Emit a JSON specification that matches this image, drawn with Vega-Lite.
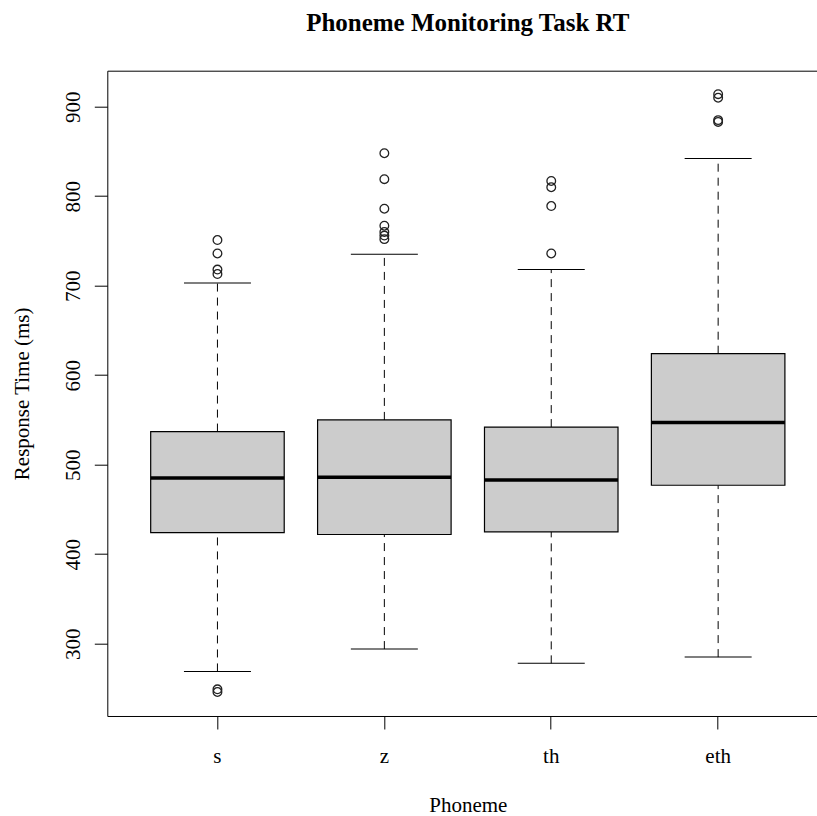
{
  "$schema": "https://vega.github.io/schema/vega-lite/v6.json",
  "autosize": "none",
  "width": 721,
  "height": 645.3,
  "padding": {"left": 107.3, "top": 70.7, "right": -11, "bottom": 100},
  "background": "white",
  "title": {
    "text": "Phoneme Monitoring Task RT",
    "font": "Liberation Serif",
    "fontSize": 25,
    "fontWeight": "bold",
    "color": "black",
    "anchor": "middle",
    "baseline": "alphabetic",
    "offset": 15
  },
  "config": {
    "view": {"stroke": "black", "strokeWidth": 1},
    "axis": {
      "labelFont": "Liberation Serif",
      "labelFontSize": 21,
      "labelColor": "black",
      "titleFont": "Liberation Serif",
      "titleFontSize": 21,
      "titleFontWeight": "normal",
      "titleColor": "black",
      "tickColor": "black",
      "tickSize": 13,
      "tickWidth": 1,
      "grid": false,
      "domain": false,
      "labelOverlap": false,
      "labelFlush": false
    }
  },
  "datasets": {
    "stats": [
      {"phoneme": "s", "lo": 269, "q1": 424, "median": 485, "q3": 537, "hi": 703},
      {"phoneme": "z", "lo": 294, "q1": 422, "median": 486, "q3": 550, "hi": 735},
      {"phoneme": "th", "lo": 278, "q1": 425, "median": 483, "q3": 542, "hi": 718},
      {"phoneme": "eth", "lo": 285, "q1": 477, "median": 547, "q3": 624, "hi": 842}
    ],
    "outliers": [
      {"phoneme": "s", "rt": 751},
      {"phoneme": "s", "rt": 736},
      {"phoneme": "s", "rt": 718},
      {"phoneme": "s", "rt": 713},
      {"phoneme": "s", "rt": 249},
      {"phoneme": "s", "rt": 246},
      {"phoneme": "z", "rt": 848},
      {"phoneme": "z", "rt": 819},
      {"phoneme": "z", "rt": 786},
      {"phoneme": "z", "rt": 767},
      {"phoneme": "z", "rt": 760},
      {"phoneme": "z", "rt": 756},
      {"phoneme": "z", "rt": 752},
      {"phoneme": "th", "rt": 817},
      {"phoneme": "th", "rt": 810},
      {"phoneme": "th", "rt": 789},
      {"phoneme": "th", "rt": 736},
      {"phoneme": "eth", "rt": 914},
      {"phoneme": "eth", "rt": 910},
      {"phoneme": "eth", "rt": 885},
      {"phoneme": "eth", "rt": 883}
    ]
  },
  "encoding": {
    "x": {
      "field": "phoneme",
      "type": "nominal",
      "sort": ["s", "z", "th", "eth"],
      "scale": {"type": "band", "domain": ["s", "z", "th", "eth"], "paddingInner": 0.2, "paddingOuter": 0.26},
      "axis": {
        "title": "Phoneme",
        "labelAngle": 0,
        "labelAlign": "center",
        "labelBaseline": "alphabetic",
        "labelPadding": 34,
        "titleBaseline": "alphabetic",
        "titleAlign": "center",
        "titleX": 360.5,
        "titleY": 96
      }
    }
  },
  "layer": [
    {
      "data": {"name": "stats"},
      "mark": {"type": "rule", "color": "black", "strokeWidth": 1, "strokeDash": [8, 6]},
      "encoding": {
        "y": {
          "field": "q3",
          "type": "quantitative",
          "scale": {"domain": [219.2, 940.2], "nice": false, "zero": false},
          "axis": {
            "title": "Response Time (ms)",
            "values": [300, 400, 500, 600, 700, 800, 900],
            "labelAngle": -90,
            "labelAlign": "center",
            "labelBaseline": "alphabetic",
            "labelPadding": 15,
            "titleAngle": -90,
            "titleAlign": "center",
            "titleBaseline": "alphabetic",
            "titleX": -79,
            "titleY": 322.65
          }
        },
        "y2": {"field": "hi"}
      }
    },
    {
      "data": {"name": "stats"},
      "mark": {"type": "rule", "color": "black", "strokeWidth": 1, "strokeDash": [8, 6]},
      "encoding": {
        "y": {"field": "lo", "type": "quantitative"},
        "y2": {"field": "q1"}
      }
    },
    {
      "data": {"name": "stats"},
      "mark": {"type": "tick", "color": "black", "size": 67, "thickness": 1, "opacity": 1},
      "encoding": {
        "y": {"field": "hi", "type": "quantitative"}
      }
    },
    {
      "data": {"name": "stats"},
      "mark": {"type": "tick", "color": "black", "size": 67, "thickness": 1, "opacity": 1},
      "encoding": {
        "y": {"field": "lo", "type": "quantitative"}
      }
    },
    {
      "data": {"name": "stats"},
      "mark": {"type": "bar", "fill": "#cccccc", "stroke": "black", "strokeWidth": 1.2, "opacity": 1},
      "encoding": {
        "y": {"field": "q1", "type": "quantitative"},
        "y2": {"field": "q3"}
      }
    },
    {
      "data": {"name": "stats"},
      "mark": {"type": "tick", "color": "black", "size": 133.5, "thickness": 3.5, "opacity": 1},
      "encoding": {
        "y": {"field": "median", "type": "quantitative"}
      }
    },
    {
      "data": {"name": "outliers"},
      "mark": {"type": "point", "shape": "circle", "filled": false, "stroke": "#222222", "strokeWidth": 1.3, "size": 75, "opacity": 1},
      "encoding": {
        "y": {"field": "rt", "type": "quantitative"}
      }
    }
  ]
}
